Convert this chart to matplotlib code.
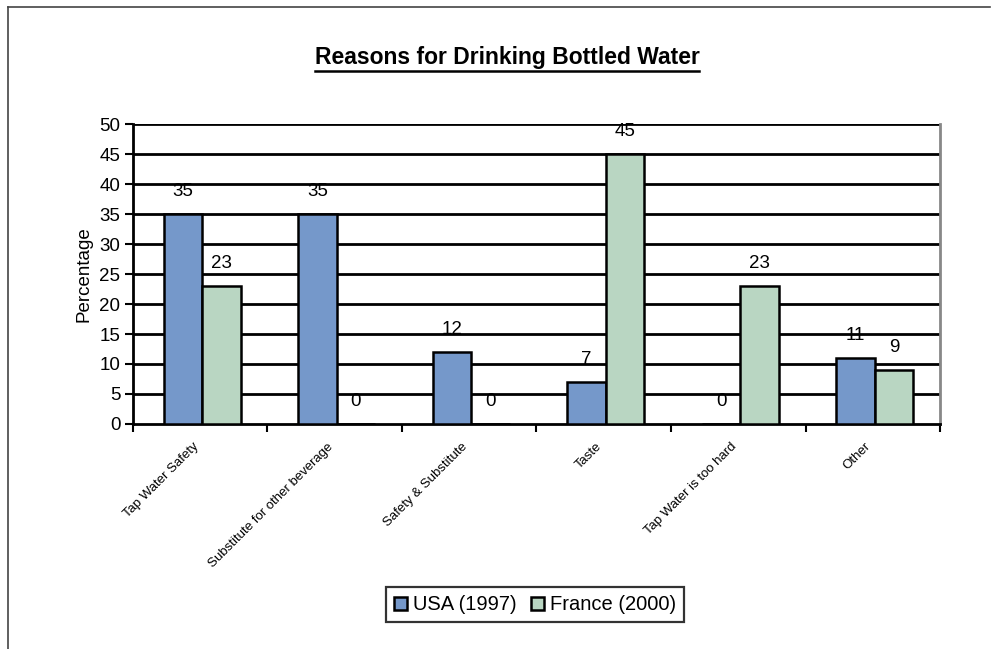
import matplotlib
matplotlib.use("Agg")
import matplotlib.pyplot as plt
import matplotlib.transforms as mtransforms
from matplotlib.lines import Line2D
import numpy as np

plt.rcParams['font.family'] = ['Liberation Sans', 'DejaVu Sans']

categories = ["Tap Water Safety", "Substitute for other beverage", "Safety & Substitute",
              "Taste", "Tap Water is too hard", "Other"]
usa_1997 = [35, 35, 12, 7, 0, 11]
france_2000 = [23, 0, 0, 45, 23, 9]
series_names = ["USA (1997)", "France (2000)"]
y_ticks = list(range(0, 55, 5))

usa_color = "#7598CA"
france_color = "#B9D6C2"

fig = plt.figure(figsize=(9.96, 6.49), dpi=100)
ax = fig.add_axes([0.1335, 0.3467, 0.8103, 0.4622])

x = np.arange(len(categories))
w = 0.285
off = 0.015
b1 = ax.bar(x + off - w / 2, usa_1997, w, color=usa_color, edgecolor="black",
            linewidth=1.8, zorder=3, label=series_names[0])
b2 = ax.bar(x + off + w / 2, france_2000, w, color=france_color, edgecolor="black",
            linewidth=1.8, zorder=3, label=series_names[1])

for bars, vals in ((b1, usa_1997), (b2, france_2000)):
    for rect, v in zip(bars, vals):
        ax.annotate(str(v), (rect.get_x() + rect.get_width() / 2, v),
                    xytext=(0, 16.5), textcoords="offset points",
                    ha="center", va="center", fontsize=13.5, zorder=4)

ax.set_xlim(-0.5, len(categories) - 0.5)
ax.set_ylim(0, 50)
ax.set_yticks(y_ticks)
ax.tick_params(axis="y", labelsize=13.5, length=6, width=1.5, direction="out", pad=3)
for yv in y_ticks[1:]:
    ax.axhline(yv, color="black", linewidth=2.0, zorder=1)

ax.set_xticks(x)
ax.set_xticklabels(categories, rotation=45, ha="right", va="top",
                   rotation_mode="anchor", fontsize=9.5)
ax.tick_params(axis="x", which="major", length=0, pad=12)
shift = mtransforms.ScaledTranslation(-8 / 100, 0, fig.dpi_scale_trans)
for lbl in ax.get_xticklabels():
    lbl.set_transform(lbl.get_transform() + shift)
ax.set_xticks(np.arange(-0.5, len(categories) + 0.5, 1), minor=True)
ax.tick_params(axis="x", which="minor", length=6, width=1.5, direction="out")

ax.spines["top"].set_visible(False)
ax.spines["left"].set_linewidth(2)
ax.spines["bottom"].set_linewidth(2)
ax.spines["right"].set_color("#888888")
ax.spines["right"].set_linewidth(2)

ax.set_ylabel("Percentage", fontsize=13.5, labelpad=5)

leg = fig.legend(handles=[b1, b2], labels=series_names, loc="center",
                 bbox_to_anchor=(0.537, 0.068), ncol=2, fontsize=14.5,
                 frameon=True, fancybox=False, handlelength=0.65, handleheight=0.65,
                 handletextpad=0.3, columnspacing=0.7, borderpad=0.4,
                 borderaxespad=0)
leg.get_frame().set_edgecolor("black")
leg.get_frame().set_linewidth(1.6)

title = fig.text(0.509, 0.911, "Reasons for Drinking Bottled Water", ha="center",
                 va="center", fontsize=16.5, fontweight="bold")
fig.canvas.draw()
bb = title.get_window_extent().transformed(fig.transFigure.inverted())
fig.add_artist(Line2D([bb.x0, bb.x1], [bb.y0 - 0.002, bb.y0 - 0.002],
                      transform=fig.transFigure, color="black", linewidth=1.8))

# outer page frame
fig.add_artist(Line2D([0.008, 0.008], [0.0, 0.989], transform=fig.transFigure,
                      color="#444444", linewidth=1.2))
fig.add_artist(Line2D([0.008, 0.994], [0.989, 0.989], transform=fig.transFigure,
                      color="#444444", linewidth=1.2))

fig.savefig("out.png", dpi=100)
